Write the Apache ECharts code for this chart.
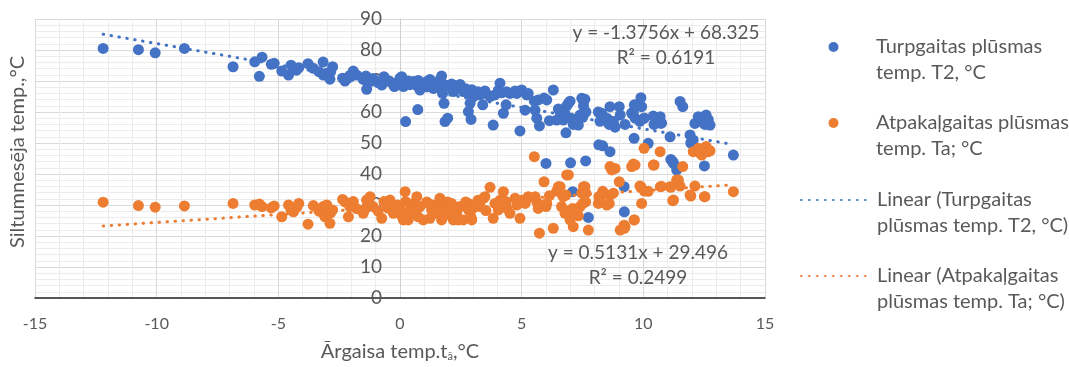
<!DOCTYPE html>
<html lang="lv">
<head>
    <meta charset="UTF-8">
    <title>Siltumnesēja temperatūra</title>
    <script src="https://cdn.jsdelivr.net/npm/echarts@6/dist/echarts.min.js"></script>
    <style>
        html, body { margin: 0; padding: 0; background: #fff; }
    </style>
</head>
<body>
<div id="myChart" style="width:1069px;height:367px;"></div>
<script type="text/javascript">
    // āra temperatūra (x) un abas siltumnesēja temperatūras (y)
    var outdoorT = [
        -12.2, -10.75, -10.06, -8.86, -6.86, -5.97, -5.78, -5.67, -5.29, -5.17,
        -4.86, -4.58, -4.48, -4.38, -4.25, -4.16, -3.78, -3.56, -3.33, -3.16,
        -3.15, -3.01, -3.08, -2.88, -2.85, -2.77, -2.36, -2.26, -2.12, -2.06,
        -2.03, -1.92, -1.78, -1.51, -1.40, -1.37, -1.23, -1.10, -0.90, -0.75,
        -0.66, -0.50, -0.41, -0.27, -0.23, -0.10, 0.00, 0.07, 0.14, 0.21,
        0.23, 0.34, 0.40, 0.48, 0.55, 0.69, 0.73, 0.75, 0.82, 0.96,
        1.10, 1.16, 1.23, 1.30, 1.37, 1.44, 1.55, 1.64, 1.71, 1.75,
        1.78, 1.81, 1.85, 1.92, 1.96, 2.05, 2.12, 2.19, 2.28, 2.33,
        2.40, 2.47, 2.60, 2.70, 2.81, 2.81, 2.88, 2.92, 2.95, 3.01,
        3.20, 3.29, 3.40, 3.49, 3.53, 3.70, 3.83, 3.90, 4.04, 4.11,
        4.18, 4.25, 4.36, 4.38, 4.52, 4.73, 4.80, 4.93, 5.00, 5.14,
        5.21, 5.27, 5.52, 5.55, 5.62, 5.68, 5.73, 5.92, 6.00, 6.03,
        6.14, 6.30, 6.44, 6.51, 6.58, 6.64, 6.71, 6.78, 6.82, 6.85,
        6.92, 6.99, 7.01, 7.03, 7.10, 7.12, 7.26, 7.33, 7.40, 7.47,
        7.51, 7.54, 7.60, 7.63, 7.64, 7.74, 8.15, 8.17, 8.22, 8.29,
        8.33, 8.36, 8.50, 8.60, 8.63, 8.63, 8.70, 8.77, 8.84, 9.01,
        9.05, 9.21, 9.22, 9.25, 9.52, 9.59, 9.62, 9.63, 9.66, 9.86,
        9.90, 9.93, 10.03, 10.04, 10.20, 10.41, 10.44, 10.69, 10.70, 10.75,
        11.10, 11.13, 11.21, 11.24, 11.37, 11.44, 11.51, 11.62, 11.92, 11.95,
        12.05, 12.12, 12.26, 12.33, 12.40, 12.47, 12.51, 12.53, 12.58, 12.67,
        12.74, 13.70
    ];
    var supplyT = [
        80.5, 80.1, 79.1, 80.5, 74.6, 76.2, 71.5, 77.7, 75.4, 75.7,
        73.2, 71.9, 75.1, 73.8, 73.5, 74.3, 75.6, 74.1, 73.0, 76.1,
        71.9, 72.5, 72.2, 70.6, 73.0, 74.6, 70.9, 70.0, 71.0, 71.8,
        71.4, 73.2, 71.9, 70.5, 71.6, 67.3, 69.8, 70.8, 69.5, 68.7,
        71.4, 70.2, 69.8, 68.9, 68.2, 69.5, 70.9, 71.4, 68.2, 69.0,
        56.9, 70.0, 68.8, 69.5, 69.8, 68.5, 60.8, 70.2, 67.1, 69.0,
        69.8, 68.2, 70.5, 68.8, 67.6, 69.2, 68.0, 70.3, 71.6, 66.0,
        69.0, 62.8, 56.9, 68.5, 58.0, 68.2, 69.0, 66.6, 68.5, 67.8,
        67.6, 68.9, 66.6, 67.5, 66.0, 60.1, 62.8, 57.6, 67.2, 64.9,
        66.5, 65.5, 62.3, 66.8, 66.0, 65.0, 55.8, 65.5, 67.0, 69.3,
        66.2, 59.6, 62.3, 66.5, 66.0, 66.8, 66.0, 53.9, 67.1, 60.6,
        65.5, 66.0, 63.5, 60.6, 58.0, 63.9, 55.5, 64.5, 43.4, 63.9,
        57.2, 67.1, 57.4, 61.0, 60.0, 60.1, 57.4, 59.5, 53.3, 62.0,
        62.8, 63.5, 43.6, 58.0, 34.3, 56.0, 57.5, 55.8, 59.0, 64.4,
        58.3, 62.0, 64.1, 44.2, 60.0, 26.0, 60.0, 49.4, 57.0, 59.6,
        49.1, 58.5, 58.0, 56.0, 47.2, 61.7, 57.0, 56.9, 55.1, 61.7,
        59.0, 35.9, 27.8, 56.0, 59.6, 60.0, 51.5, 62.3, 58.0, 57.0,
        64.6, 61.7, 58.0, 58.0, 49.9, 58.7, 56.0, 58.5, 56.4, 56.4,
        52.0, 44.7, 44.0, 43.4, 41.3, 42.0, 63.4, 61.7, 52.6, 50.0,
        51.0, 56.3, 58.5, 58.0, 57.0, 56.5, 42.6, 56.0, 59.0, 57.5,
        55.8, 46.1
    ];
    var returnT = [
        30.9, 29.8, 29.3, 29.7, 30.5, 30.0, 30.3, 29.5, 29.1, 29.7,
        26.2, 30.0, 28.5, 27.8, 29.2, 30.5, 23.8, 29.8, 28.0, 29.5,
        27.3, 30.0, 26.2, 24.1, 27.5, 28.4, 31.8, 31.0, 26.2, 29.5,
        30.2, 31.1, 28.8, 27.3, 29.0, 31.6, 32.7, 29.5, 28.0, 25.7,
        31.1, 29.0, 31.6, 27.3, 28.5, 30.0, 28.9, 26.5, 25.2, 34.3,
        31.1, 25.2, 28.0, 27.3, 30.5, 32.7, 29.0, 26.2, 29.5, 25.2,
        31.0, 30.5, 25.7, 28.4, 30.0, 27.3, 29.2, 32.2, 25.2, 28.6,
        29.5, 26.5, 30.8, 27.3, 31.0, 28.0, 30.5, 25.2, 29.0, 27.3,
        25.2, 29.5, 25.2, 31.0, 30.5, 28.5, 27.8, 26.0, 25.2, 29.0,
        31.5, 29.5, 32.0, 32.7, 28.2, 35.7, 25.7, 30.5, 28.4, 31.5,
        31.1, 34.3, 31.1, 29.0, 27.3, 32.2, 30.0, 25.7, 31.5, 30.5,
        32.0, 32.7, 45.6, 32.7, 31.0, 28.9, 20.9, 37.5, 29.5, 30.5,
        33.0, 22.5, 34.5, 35.9, 35.9, 29.5, 32.7, 27.3, 33.2, 39.7,
        39.7, 25.2, 28.4, 26.2, 28.9, 23.0, 28.4, 26.5, 29.5, 33.8,
        30.5, 35.9, 35.9, 31.0, 33.8, 21.9, 30.5, 32.7, 32.7, 33.2,
        34.4, 33.8, 30.0, 30.5, 42.4, 33.2, 41.3, 33.8, 41.8, 37.5,
        21.9, 23.5, 22.5, 23.0, 42.4, 43.2, 25.2, 25.2, 42.9, 36.1,
        35.9, 30.5, 48.3, 34.5, 34.4, 42.9, 42.9, 47.2, 35.9, 36.0,
        35.9, 35.7, 31.4, 31.6, 38.1, 38.1, 36.1, 42.4, 33.2, 32.9,
        47.2, 36.1, 48.3, 46.7, 46.1, 48.0, 32.7, 32.7, 48.9, 47.2,
        47.5, 34.3
    ];

    // Excel tendences līnijas: [slīpums, krustpunkts], R²
    var trendSupply = [-1.3756, 68.325];
    var trendReturn = [0.5131, 29.496];
    var r2Supply = '0.6191';
    var r2Return = '0.2499';

    var xTicks = [-15, 15, 5];   // min, max, solis
    var yTicks = [0, 90, 10];

    var names = [
        'Turpgaitas plūsmas temp. T2, °C',
        'Atpakaļgaitas plūsmas temp. Ta; °C',
        'Linear (Turpgaitas plūsmas temp. T2, °C)',
        'Linear (Atpakaļgaitas plūsmas temp. Ta; °C)'
    ];
    var legendText = [
        'Turpgaitas plūsmas\ntemp. T2, °C',
        'Atpakaļgaitas plūsmas\ntemp. Ta; °C',
        'Linear (Turpgaitas\nplūsmas temp. T2, °C)',
        'Linear (Atpakaļgaitas\nplūsmas temp. Ta; °C)'
    ];

    var BLUE = '#4472C4';
    var ORANGE = '#ED7D31';
    var TXT = '#595959';
    var FONT = 'Lato, "Noto Sans", sans-serif';

    function pairs(xs, ys) {
        var out = [];
        for (var i = 0; i < xs.length; i++) {
            out.push([xs[i], ys[i]]);
        }
        return out;
    }

    function trendLine(coef) {
        var x0 = Math.min.apply(null, outdoorT);
        var x1 = Math.max.apply(null, outdoorT);
        return [[x0, coef[0] * x0 + coef[1]], [x1, coef[0] * x1 + coef[1]]];
    }

    function fmtEq(coef) {
        var sign = coef[1] < 0 ? ' - ' : ' + ';
        return 'y = ' + coef[0] + 'x' + sign + Math.abs(coef[1]);
    }

    var myChart = echarts.init(document.getElementById('myChart'));

    // leģenda: ikona pret pirmo teksta rindu (tukšā rinda augšā to nobīda)
    var legendTops = [47, 123, 200, 276];
    var legends = [];
    for (var i = 0; i < 4; i++) {
        var isLine = i >= 2;
        var lg = {
            data: [names[i]],
            left: isLine ? 800 : 828.5,
            top: legendTops[i] - 39,
            padding: 0,
            itemWidth: 67,
            itemHeight: 10,
            formatter: (function (k) { return function () { return '\n' + legendText[k]; }; })(i),
            textStyle: {
                fontFamily: FONT, fontSize: 20, color: TXT, lineHeight: 26,
                padding: [0, 0, 0, 4]
            }
        };
        if (isLine) {
            lg.itemStyle = { opacity: 0, borderWidth: 0 };
        }
        legends.push(lg);
    }

    var dotted = function (color) {
        return { color: color, width: 3, type: [0.5, 7.5], cap: 'round' };
    };

    var option = {
        animation: false,
        backgroundColor: '#fff',
        grid: { left: 35, right: 304, top: 19, bottom: 69, containLabel: false },
        legend: legends,
        xAxis: {
            type: 'value',
            min: xTicks[0], max: xTicks[1], interval: xTicks[2],
            axisLine: { onZero: true, lineStyle: { color: '#262626', width: 1.5 } },
            axisTick: { show: false },
            axisLabel: { margin: 18, fontFamily: FONT, fontSize: 16, color: TXT },
            splitLine: { show: true, lineStyle: { color: '#d9d9d9', width: 1 } },
            minorTick: { show: false, splitNumber: 5 },
            minorSplitLine: { show: true, lineStyle: { color: '#ececec', width: 1 } }
        },
        yAxis: {
            type: 'value',
            min: yTicks[0], max: yTicks[1], interval: yTicks[2],
            offset: -365,   // ass pie x = 0
            axisLine: { show: true, onZero: false, lineStyle: { color: '#d0d0d0', width: 1 } },
            axisTick: { show: false },
            axisLabel: { margin: 18, fontFamily: FONT, fontSize: 19, color: TXT },
            splitLine: { show: true, lineStyle: { color: '#d9d9d9', width: 1 } },
            minorTick: { show: false, splitNumber: 5 },
            minorSplitLine: { show: true, lineStyle: { color: '#ececec', width: 1 } }
        },
        graphic: [
            {
                type: 'text', x: 18, y: 152, rotation: Math.PI / 2, z: 100,
                style: { text: 'Siltumnesēja temp.,°C', fill: TXT, font: '20px ' + FONT, align: 'center', verticalAlign: 'middle' }
            },
            {
                type: 'text', x: 400, y: 352, z: 100,
                style: {
                    text: 'Ārgaisa temp.t{s|ā},°C', fill: TXT, font: '20px ' + FONT, align: 'center', verticalAlign: 'middle',
                    rich: { s: { fontSize: 11, fontFamily: FONT, fill: TXT, verticalAlign: 'bottom', padding: [9, 0, 0, 0] } }
                }
            },
            {
                type: 'text', x: 666, y: 20.5, z: 100,
                style: { text: fmtEq(trendSupply) + '\nR² = ' + r2Supply, fill: TXT, font: '19px ' + FONT, align: 'center', verticalAlign: 'top', lineHeight: 25 }
            },
            {
                type: 'text', x: 638, y: 240, z: 100,
                style: { text: fmtEq(trendReturn) + '\nR² = ' + r2Return, fill: TXT, font: '19px ' + FONT, align: 'center', verticalAlign: 'top', lineHeight: 25 }
            }
        ],
        series: [
            {
                name: names[0], type: 'scatter', symbol: 'circle', symbolSize: 11,
                itemStyle: { color: BLUE, opacity: 1 },
                data: pairs(outdoorT, supplyT), z: 2
            },
            {
                name: names[1], type: 'scatter', symbol: 'circle', symbolSize: 11,
                itemStyle: { color: ORANGE, opacity: 1 },
                data: pairs(outdoorT, returnT), z: 3
            },
            {
                name: names[2], type: 'line', symbol: 'none', silent: true,
                lineStyle: dotted(BLUE), itemStyle: { color: BLUE },
                data: trendLine(trendSupply), z: 4
            },
            {
                name: names[3], type: 'line', symbol: 'none', silent: true,
                lineStyle: dotted(ORANGE), itemStyle: { color: ORANGE },
                data: trendLine(trendReturn), z: 4
            }
        ]
    };

    myChart.setOption(option);
</script>
</body>
</html>
